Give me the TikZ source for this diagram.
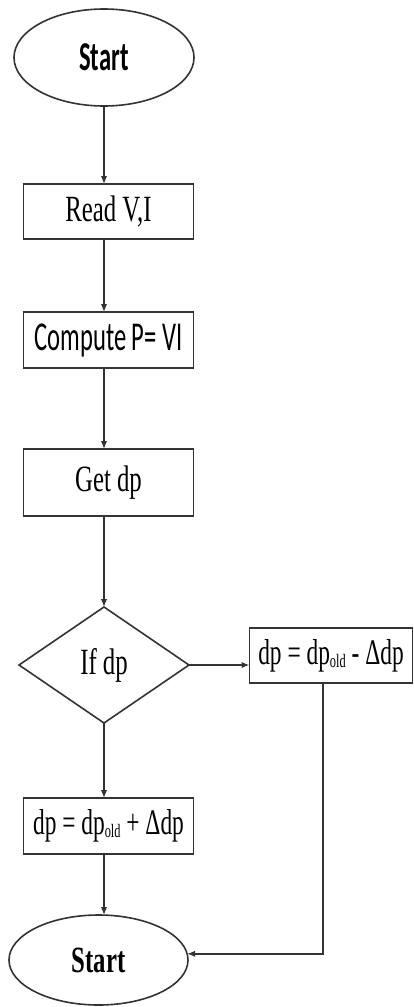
\documentclass[tikz,border=0pt]{standalone}
\usepackage{fontspec}
\usetikzlibrary{shapes.geometric,arrows.meta}
\newfontfamily\timesfont[FakeStretch=0.67]{Liberation Serif}
\newfontfamily\timesnarrow[FakeStretch=0.65]{Liberation Serif}
\newfontfamily\califont[FakeStretch=0.6]{Carlito}
\newcommand{\oldsub}{\raisebox{-3pt}{\fontsize{19}{19}\selectfont old}}
\tikzset{
  every node/.style={inner sep=0pt, outer sep=0pt, text=black},
  shapeline/.style={draw=black!80, line width=1.6pt},
  ellbox/.style={shapeline, ellipse},
  procbox/.style={shapeline, rectangle},
  decbox/.style={shapeline, diamond},
  arr/.style={draw=black!80, line width=1.5pt, -{Latex[length=8pt,width=6.5pt]}},
  tfont/.style={font=\timesfont\fontsize{37}{42}\selectfont},
  eqfont/.style={font=\timesnarrow\fontsize{36}{40}\selectfont},
  cfont/.style={font=\califont\fontsize{41}{46}\selectfont}
}
\begin{document}
\begin{tikzpicture}[x=1pt,y=-1pt]
\useasboundingbox (0,0) rectangle (414,1007);
\node[ellbox, cfont, minimum width=180pt, minimum height=97pt] (s1) at (104,57.5) {\bfseries Start};
\node[procbox, tfont, minimum width=170pt, minimum height=55pt] (read) at (108.5,211.5) {Read V,I};
\node[procbox, cfont, minimum width=170pt, minimum height=56pt] (comp) at (108.5,340) {Compute P= VI};
\node[procbox, tfont, minimum width=170pt, minimum height=67pt] (get) at (108.5,482.5) {Get dp};
\node[decbox, tfont, minimum width=170pt, minimum height=116pt, aspect=1.5] (dec) at (104,665) {If dp};
\node[procbox, eqfont, minimum width=163pt, minimum height=55pt] (minus) at (331,655.5) {dp = dp\oldsub\ - Δdp};
\node[procbox, eqfont, minimum width=170pt, minimum height=56pt] (plus) at (108.5,826) {dp = dp\oldsub\ + Δdp};
\node[ellbox, tfont, minimum width=179pt, minimum height=90pt] (s2) at (98.5,960) {\bfseries Start};

\draw[arr] (s1.south) -- (s1.south |- read.north);
\draw[arr] (s1.south |- read.south) -- (s1.south |- comp.north);
\draw[arr] (s1.south |- comp.south) -- (s1.south |- get.north);
\draw[arr] (s1.south |- get.south) -- (dec.north);
\draw[arr] (dec.east) -- (dec.east -| minus.west);
\draw[arr] (dec.south) -- (dec.south |- plus.north);
\draw[arr] (dec.south |- plus.south) -- (dec.south |- s2.north);
\draw[arr] ([xshift=-8pt]minus.south) |- (s2.4.5);
\end{tikzpicture}
\end{document}
